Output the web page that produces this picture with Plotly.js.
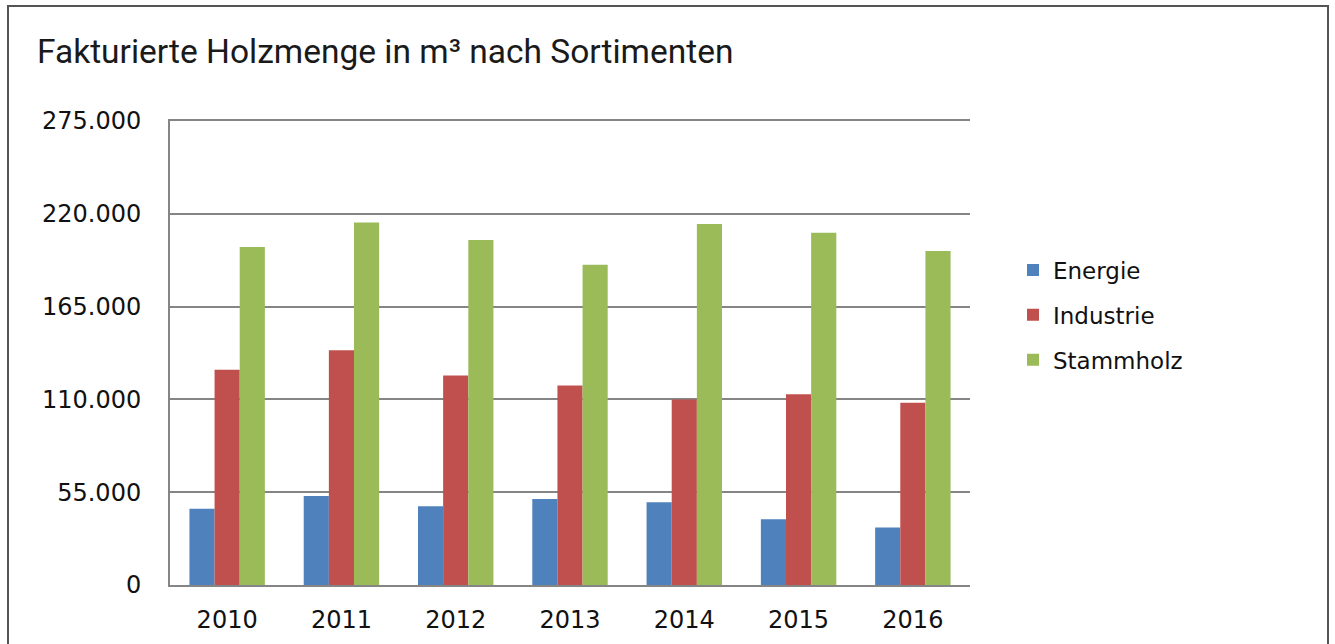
<!DOCTYPE html>
<html>
<head>
<meta charset="utf-8">
<script src="https://cdn.plot.ly/plotly-3.0.1.min.js"></script>
<style>
  html, body { margin: 0; padding: 0; background: #fff; }
  #chart { width: 1335px; height: 644px; }
</style>
</head>
<body>
<div id="chart"></div>
<script>
const years = ['2010', '2011', '2012', '2013', '2014', '2015', '2016'];
const energie = [45200, 52700, 46700, 51000, 49000, 38900, 34100];
const industrie = [127500, 139200, 124200, 118300, 110000, 113100, 108000];
const stammholz = [200300, 214900, 204400, 189800, 213900, 208800, 197900];
const seriesNames = ['Energie', 'Industrie', 'Stammholz'];
const yTicks = [0, 55000, 110000, 165000, 220000, 275000];

const colors = ['#4F81BD', '#C0504D', '#9BBB59'];
const seriesData = [energie, industrie, stammholz];

const traces = seriesData.map((vals, i) => ({
  type: 'bar',
  name: seriesNames[i],
  x: years,
  y: vals,
  marker: { color: colors[i], line: { width: 0 } },
  legendgroup: 'g' + i,
  hoverinfo: 'x+y+name'
}));

const L = 170, R = 970, T = 121, B = 585, W = 1335, H = 644;
const pw = R - L, ph = B - T;
const px = x => (x - L) / pw;
const py = y => (B - y) / ph;

const tickFont = { family: 'DejaVu Sans, sans-serif', size: 24, color: '#111111' };

const layout = {
  width: W, height: H,
  margin: { l: L, r: W - R, t: T, b: H - B, pad: 0 },
  paper_bgcolor: '#ffffff',
  plot_bgcolor: '#ffffff',
  separators: ',.',
  barmode: 'group',
  bargap: 0.34,
  bargroupgap: 0,
  font: { family: 'DejaVu Sans, sans-serif', color: '#111111', size: 23 },
  title: {
    text: 'Fakturierte Holzmenge in m³ nach Sortimenten',
    font: { family: 'Roboto, sans-serif', size: 33.5, color: '#1a1a1a' },
    xref: 'container', yref: 'container',
    x: 37 / W, xanchor: 'left',
    y: 1 - 51 / H, yanchor: 'middle'
  },
  xaxis: {
    type: 'category',
    showgrid: false,
    showline: true, linecolor: '#858585', linewidth: 2,
    mirror: true,
    ticks: '',
    ticklabelstandoff: 12,
    tickfont: tickFont,
    zeroline: false
  },
  yaxis: {
    range: [0, 275000],
    tickvals: yTicks,
    tickformat: ',d',
    showgrid: true, gridcolor: '#858585', gridwidth: 2,
    showline: true, linecolor: '#858585', linewidth: 2,
    zeroline: false,
    ticks: '',
    ticklabelstandoff: 22,
    tickfont: tickFont
  },
  showlegend: true,
  legend: {
    x: px(1013), xanchor: 'left',
    y: py(315), yanchor: 'middle',
    traceorder: 'grouped',
    tracegroupgap: 12,
    font: { family: 'DejaVu Sans, sans-serif', size: 23, color: '#111111' },
    bgcolor: 'rgba(0,0,0,0)',
    itemwidth: 30
  },
  shapes: [
    {
      type: 'rect', xref: 'paper', yref: 'paper',
      x0: px(8), x1: px(1328), y0: py(660), y1: py(6),
      line: { color: '#555555', width: 2 },
      fillcolor: 'rgba(0,0,0,0)', layer: 'below'
    }
  ]
};

Plotly.newPlot('chart', traces, layout, { displayModeBar: false, staticPlot: true });
</script>
</body>
</html>
